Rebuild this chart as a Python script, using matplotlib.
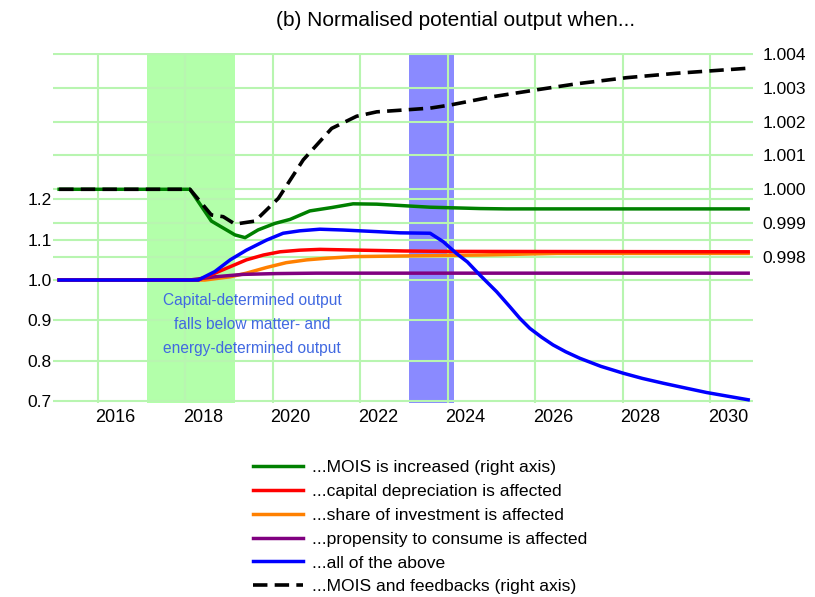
import numpy as np
import matplotlib.pyplot as plt
import matplotlib.transforms as mtransforms

plt.rcParams['font.family'] = ['Liberation Sans', 'DejaVu Sans']

# Normalised potential output, scenario runs (left axis unless noted)
mois_years = [2015.12, 2018.11, 2018.6, 2019.14, 2019.37, 2019.67, 2020.05, 2020.4, 2020.85,
              2021.35, 2021.84, 2022.38, 2023.06, 2023.6, 2024.74, 2025.35, 2030.87]
mois_vals = [1.0, 1.0, 0.99906, 0.99865, 0.99857, 0.99880, 0.99899, 0.99911, 0.99936,
             0.99946, 0.99957, 0.99956, 0.99951, 0.99947, 0.99943, 0.99942, 0.99942]

depr_years = [2015.12, 2018.3, 2018.68, 2019.03, 2019.4, 2019.79, 2020.17, 2020.62, 2021.08,
              2022.0, 2023.0, 2024.0, 2030.87]
depr_vals = [1.0, 1.0, 1.017, 1.033, 1.050, 1.062, 1.070, 1.074, 1.076,
             1.074, 1.072, 1.071, 1.070]

inv_years = [2015.12, 2018.45, 2019.03, 2019.4, 2019.86, 2020.31, 2020.78, 2021.23, 2021.84,
             2022.53, 2024.74, 2026.5, 2030.87]
inv_vals = [1.0, 1.0, 1.008, 1.017, 1.031, 1.043, 1.050, 1.054, 1.058,
            1.059, 1.062, 1.066, 1.066]

cons_years = [2015.12, 2018.1, 2018.68, 2019.33, 2020.09, 2021.0, 2030.87]
cons_vals = [1.0, 1.0, 1.008, 1.014, 1.016, 1.017, 1.017]

all_years = [2015.12, 2018.3, 2018.68, 2019.03, 2019.4, 2019.86, 2020.24, 2020.62, 2021.08,
             2021.61, 2022.38, 2022.91, 2023.6, 2023.9, 2024.2, 2024.45, 2024.74, 2025.12,
             2025.42, 2025.65, 2025.88, 2026.15, 2026.41, 2026.7, 2027.02, 2027.5, 2028.01,
             2028.45, 2028.93, 2029.4, 2029.92, 2030.87]
all_vals = [1.0, 1.0, 1.021, 1.050, 1.074, 1.099, 1.116, 1.122, 1.126,
            1.124, 1.120, 1.117, 1.116, 1.095, 1.066, 1.045, 1.012, 0.971,
            0.934, 0.905, 0.880, 0.858, 0.839, 0.822, 0.806, 0.786, 0.769,
            0.756, 0.744, 0.733, 0.721, 0.703]

fb_years = [2015.12, 2018.11, 2018.6, 2018.87, 2019.14, 2019.6, 2020.13, 2020.7, 2021.35,
            2021.92, 2022.38, 2023.06, 2023.6, 2024.05, 2025.04, 2026.03, 2026.95, 2028.09,
            2029.23, 2030.87]
fb_vals = [1.0, 1.0, 0.99924, 0.99919, 0.99897, 0.99906, 0.99973, 1.00087, 1.00180,
           1.00216, 1.00229, 1.00235, 1.00240, 1.00249, 1.00274, 1.00294, 1.00312, 1.00330,
           1.00343, 1.00358]

# Highlighted periods
green_span = (2017.13, 2019.15)
blue_span = (2023.12, 2024.14)

left_ticks = [0.7, 0.8, 0.9, 1.0, 1.1, 1.2]
right_ticks = [0.998, 0.999, 1.000, 1.001, 1.002, 1.003, 1.004]
year_ticks = [2016, 2018, 2020, 2022, 2024, 2026, 2028, 2030]

grid_col = '#b8f5b0'

fig = plt.figure(figsize=(8.15, 5.97), dpi=100)
ax = fig.add_axes([53/815, 1 - 403/597, 700/815, 350/597])
ax2 = ax.twinx()

ax.set_xlim(2014.98, 2030.98)
ax.set_ylim(0.695, 1.563)
ax2.set_ylim(0.99368, 1.00403)

# Shaded periods, then the grid for both axes (drawn on the left axes so it sits under the lines)
ax.axvspan(*green_span, color='#b3ffaa', lw=0, zorder=0.3)
ax.axvspan(*blue_span, color='#8a8aff', lw=0, zorder=0.3)

for yr in year_ticks:
    ax.axvline(yr, color=grid_col, lw=1.5, zorder=0.6)
for v in left_ticks:
    ax.axhline(v, color=grid_col, lw=1.5, zorder=0.6)
right_trans = mtransforms.blended_transform_factory(ax.transAxes, ax2.transData)
for v in right_ticks:
    ax.plot([0, 1], [v, v], color=grid_col, lw=1.5, zorder=0.6, transform=right_trans)

# Left axis series
ax.plot(inv_years, inv_vals, color='#ff8000', lw=2.5, zorder=2,
        label='...share of investment is affected')
ax.plot(cons_years, cons_vals, color='#800080', lw=2.5, zorder=2,
        label='...propensity to consume is affected')
ax.plot(depr_years, depr_vals, color='#ff0000', lw=2.5, zorder=2.1,
        label='...capital depreciation is affected')
ax.plot(all_years, all_vals, color='#0000ff', lw=2.5, zorder=2.2,
        label='...all of the above')

# Right axis series
ax2.plot(mois_years, mois_vals, color='#008000', lw=2.5,
         label='...MOIS is increased (right axis)')
ax2.plot(fb_years, fb_vals, color='black', lw=2.6, dashes=(4, 2),
         label='...MOIS and feedbacks (right axis)')

ax.text(2019.53, 0.890, 'Capital-determined output\nfalls below matter- and\nenergy-determined output',
        color='#4169e1', fontsize=11.2, ha='center', va='center', linespacing=1.76)

# Axes cosmetics
for a in (ax, ax2):
    for s in a.spines.values():
        s.set_visible(False)
ax.set_yticks(left_ticks)
ax.set_yticklabels([f'{v:.1f}' for v in left_ticks])
ax2.set_yticks(right_ticks)
ax2.set_yticklabels([f'{v:.3f}' for v in right_ticks])
ax.set_xticks(year_ticks)
ax.set_xticklabels([str(y) for y in year_ticks])
ax.tick_params(axis='both', length=0)
ax.tick_params(axis='y', pad=1, labelsize=12.5)
ax.tick_params(axis='x', pad=4, labelsize=13)
ax2.tick_params(axis='y', length=0, labelsize=12.5, pad=7)

# Year labels sit a little to the right of their grid lines
shift = mtransforms.ScaledTranslation(0.18, 0, fig.dpi_scale_trans)
for lbl in ax.get_xticklabels():
    lbl.set_transform(lbl.get_transform() + shift)

fig.text(456/815, 1 - 21/597, '(b) Normalised potential output when...',
         fontsize=15, ha='center', va='center')

# Legend in the order of the scenarios
h1, l1 = ax.get_legend_handles_labels()
h2, l2 = ax2.get_legend_handles_labels()
handles = [h2[0], h1[2], h1[0], h1[1], h1[3], h2[1]]
labels = [l2[0], l1[2], l1[0], l1[1], l1[3], l2[1]]
fig.legend(handles, labels, loc='upper left', bbox_to_anchor=(253/815, 1 - 460/597),
           frameon=False, fontsize=12.6, handlelength=2.86, handletextpad=0.5,
           labelspacing=0.49, borderpad=0, borderaxespad=0)

fig.savefig('out.png', dpi=100)
